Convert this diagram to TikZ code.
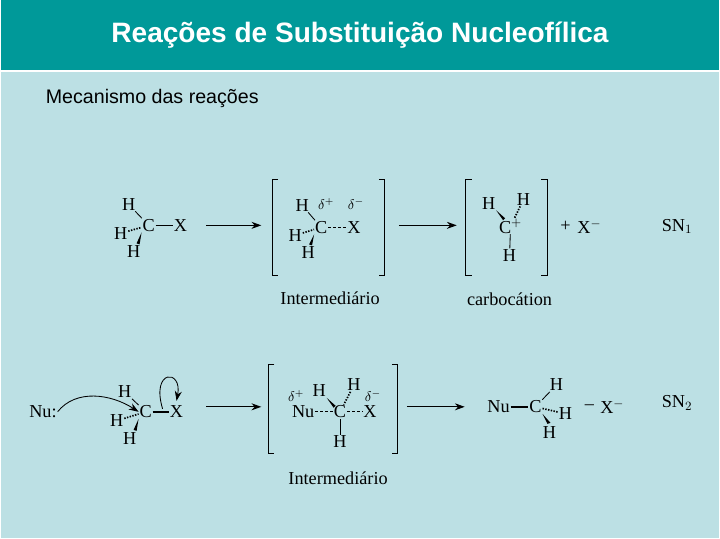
\documentclass[tikz,border=0pt]{standalone}
\usepackage{fontspec}
\setmainfont{Liberation Serif}
\newfontfamily\titlefont{Liberation Sans}
\usetikzlibrary{arrows.meta}
\definecolor{bgblue}{HTML}{BCE0E4}
\definecolor{headteal}{HTML}{009999}
\tikzset{>={Stealth[length=7pt,width=5pt]},
  atom/.style={inner sep=0.5pt,font=\fontsize{13}{13}\selectfont},
  lbl/.style={inner sep=1pt,font=\fontsize{13}{13}\selectfont},
  dlt/.style={inner sep=0.5pt,font=\fontsize{10}{10}\selectfont},
  bond/.style={line width=0.6pt},
  hash/.style={line width=1.2pt,dash pattern=on 1pt off 1pt},
  dbond/.style={line width=0.6pt,dash pattern=on 2pt off 1.5pt},
  rxn/.style={->,line width=0.8pt},
  brk/.style={line width=0.8pt}}
\begin{document}
\begin{tikzpicture}[x=0.025cm,y=-0.025cm]
    % Background and header
    \fill[bgblue] (0,0) rectangle (720,540);
    \fill[headteal] (0,0) rectangle (720,70);
    \draw[white,line width=1.5pt] (0,71) -- (720,71);
    \node (title) at (360,35) {\titlefont\bfseries\fontsize{20}{20}\selectfont\color{white}Reações de Substituição Nucleofílica};
    \node[anchor=west] (sub) at (40,99) {\titlefont\fontsize{14}{14}\selectfont Mecanismo das reações};

    % SN1: substrate
    \node[atom] (c1) at (148,226) {C};
    \node[atom] (x1) at (180,226) {X};
    \node[atom] (h1a) at (128,205) {H};
    \node[atom] (h1b) at (120,234) {H};
    \node[atom] (h1c) at (133,252) {H};
    \draw[bond] (h1a) -- (c1);
    \draw[bond] (c1) -- (x1);
    \draw[hash] (h1b) -- (c1);
    \fill (c1.south west) -- ++(-5,11) -- ++(3,1) -- cycle;

    \node[inner sep=0] (a1s) at (205,226) {};
    \node[inner sep=0] (a1e) at (262,226) {};
    \draw[rxn] (a1s) -- (a1e);

    % SN1: intermediate
    \draw[brk] (278,180) -- (272,180) -- (272,276) -- (278,276);
    \draw[brk] (379,180) -- (385,180) -- (385,276) -- (379,276);
    \node[atom] (c2) at (321,228) {C};
    \node[atom] (x2) at (354,228) {X};
    \node[atom] (h2a) at (302,206) {H};
    \node[atom] (h2b) at (295,236) {H};
    \node[atom] (h2c) at (308,253) {H};
    \node[dlt] (d2p) at (326,205) {$\delta^{+}$};
    \node[dlt] (d2m) at (356,205) {$\delta^{-}$};
    \draw[bond] (h2a) -- (c2);
    \draw[dbond] (c2) -- (x2);
    \draw[hash] (h2b) -- (c2);
    \fill (c2.south west) -- ++(-5,10) -- ++(3,1) -- cycle;
    \node[lbl] (int1) at (330,299) {Intermediário};

    \node[inner sep=0] (a2s) at (398,226) {};
    \node[inner sep=0] (a2e) at (458,226) {};
    \draw[rxn] (a2s) -- (a2e);

    % SN1: carbocation
    \draw[brk] (472,180) -- (466,180) -- (466,276) -- (472,276);
    \draw[brk] (542,180) -- (548,180) -- (548,276) -- (542,276);
    \node[atom] (c3) at (511,227) {C$^{+}$};
    \node[atom] (h3a) at (489,204) {H};
    \node[atom] (h3b) at (524,200) {H};
    \node[atom] (h3c) at (510,256) {H};
    \fill (h3a.south east) -- ++(9,8) -- ++(-2,2) -- cycle;
    \draw[hash] (h3b) -- (c3);
    \draw[bond] (c3) -- (h3c);
    \node[lbl] (plus1) at (566,227) {+};
    \node[atom] (x3) at (590,227) {X$^{-}$};
    \node[lbl] (sn1) at (678,227) {SN$_1$};
    \node[lbl] (carb) at (510,300) {carbocátion};

    % SN2: substrate
    \node[atom] (nu) at (42,413) {Nu:};
    \node[atom] (c4) at (145,413) {C};
    \node[atom] (x4) at (176,413) {X};
    \node[atom] (h4a) at (124,393) {H};
    \node[atom] (h4b) at (116,422) {H};
    \node[atom] (h4c) at (129,440) {H};
    \draw[bond] (h4a) -- (c4);
    \draw[line width=1.2pt] (c4) -- (x4);
    \draw[hash] (h4b) -- (c4);
    \fill (c4.south west) -- ++(-5,11) -- ++(3,1) -- cycle;
    \draw[->,line width=0.6pt] (nu.east) .. controls (75,390) and (110,395) .. (c4.west);
    \draw[->,line width=0.6pt] (162,410) .. controls (150,370) and (182,370) .. (176,402);

    \node[inner sep=0] (a3s) at (205,408) {};
    \node[inner sep=0] (a3e) at (262,408) {};
    \draw[rxn] (a3s) -- (a3e);

    % SN2: transition state
    \draw[brk] (274,366) -- (268,366) -- (268,455) -- (274,455);
    \draw[brk] (392,366) -- (398,366) -- (398,455) -- (392,455);
    \node[atom] (nu5) at (303,413) {Nu};
    \node[atom] (c5) at (340,413) {C};
    \node[atom] (x5) at (370,413) {X};
    \node[atom] (h5a) at (319,392) {H};
    \node[atom] (h5b) at (354,386) {H};
    \node[atom] (h5c) at (340,443) {H};
    \node[dlt] (d5p) at (296,397) {$\delta^{+}$};
    \node[dlt] (d5m) at (373,397) {$\delta^{-}$};
    \draw[dbond] (nu5) -- (c5);
    \draw[dbond] (c5) -- (x5);
    \fill (h5a.south east) -- ++(9,8) -- ++(-2,2) -- cycle;
    \draw[hash] (h5b) -- (c5);
    \draw[bond] (c5) -- (h5c);
    \node[lbl] (int2) at (338,480) {Intermediário};

    \node[inner sep=0] (a4s) at (406,408) {};
    \node[inner sep=0] (a4e) at (466,408) {};
    \draw[rxn] (a4s) -- (a4e);

    % SN2: product
    \node[atom] (nu6) at (499,408) {Nu};
    \node[atom] (c6) at (536,408) {C};
    \node[atom] (h6a) at (557,386) {H};
    \node[atom] (h6b) at (566,415) {H};
    \node[atom] (h6c) at (550,434) {H};
    \draw[line width=1.2pt] (nu6) -- (c6);
    \draw[bond] (c6) -- (h6a);
    \draw[hash] (c6) -- (h6b);
    \fill (c6.south east) -- ++(5,10) -- ++(3,-1) -- cycle;
    \node[lbl] (minus6) at (590,408) {--};
    \node[atom] (x6) at (613,408) {X$^{-}$};
    \node[lbl] (sn2) at (678,404) {SN$_2$};
\end{tikzpicture}
\end{document}
